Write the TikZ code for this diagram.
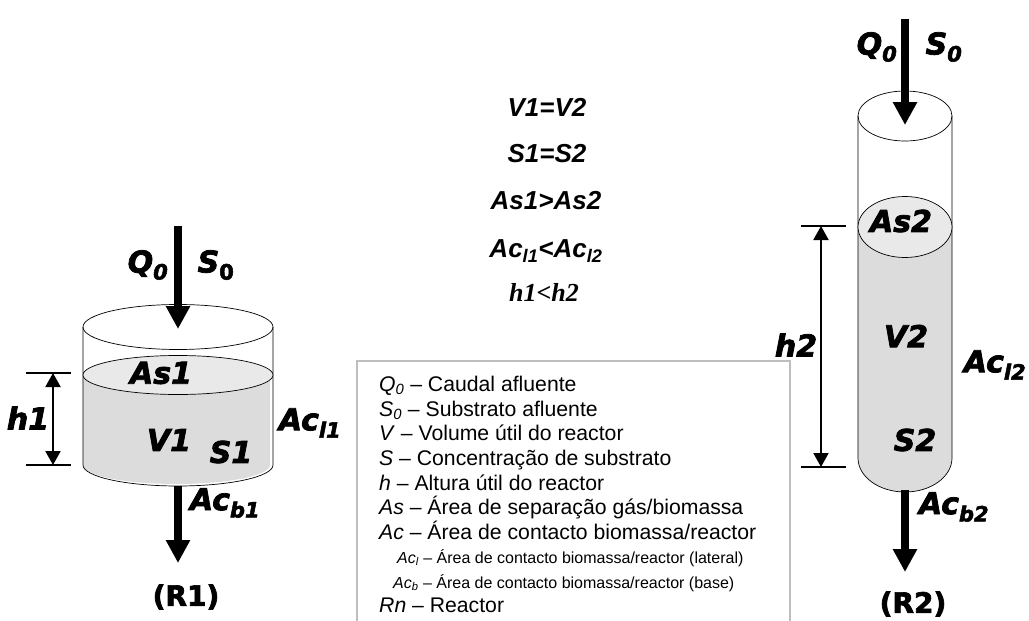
\documentclass[tikz,border=0pt]{standalone}
\usepackage{fontspec}
\usetikzlibrary{arrows.meta}
\setmainfont{Liberation Sans}
\newfontfamily\heavyfont{DejaVu Sans}[BoldFeatures={FakeBold=2.5},BoldItalicFeatures={FakeBold=2.5}]
\newfontfamily\timesfont{Liberation Serif}
\tikzset{
    wall/.style={black, line width=0.7pt},
    heavylabel/.style={inner sep=0pt, font=\fontsize{30}{30}\selectfont\heavyfont\bfseries\itshape},
    reactorname/.style={inner sep=0pt, font=\fontsize{28}{28}\selectfont\heavyfont\bfseries},
    flowarrow/.style={line width=8pt, -{Triangle[length=23pt, width=23pt]}},
    heightarrow/.style={line width=2pt, {Triangle[length=14pt, width=15pt]}-{Triangle[length=14pt, width=15pt]}},
    heightline/.style={line width=1.2pt},
    relation/.style={inner sep=0pt, font=\fontsize{26}{26}\selectfont\bfseries\itshape},
    legendrow/.style={anchor=base west, inner sep=0pt, font=\fontsize{21.2}{21.2}\selectfont},
    legendsub/.style={anchor=base west, inner sep=0pt, font=\fontsize{16}{16}\selectfont}
}
\definecolor{liquid}{HTML}{DCDCDC}
\definecolor{surface}{HTML}{E9E9E9}
\definecolor{boxline}{HTML}{BEBEBE}
\begin{document}
\begin{tikzpicture}[x=1pt, y=-1pt]
    \useasboundingbox (0,0) rectangle (1029,621);

    % Points du reacteur R1
    \coordinate (r1in) at (178,226);
    \coordinate (r1inend) at (178,329);
    \coordinate (r1out) at (178,486);
    \coordinate (r1outend) at (178,563);
    \coordinate (h1a) at (53,373);
    \coordinate (h1b) at (53,465);
    \coordinate (h1aL) at (26,373);
    \coordinate (h1aR) at (71,373);
    \coordinate (h1bL) at (26,465);
    \coordinate (h1bR) at (71,465);

    % Reacteur R1
    \fill[liquid] (83,373) -- (83,465) arc[start angle=180, end angle=0, x radius=93.5, y radius=19] -- (270,373) -- cycle;
    \draw[wall] (83,327) -- (83,465) arc[start angle=180, end angle=0, x radius=95, y radius=21] -- (273,327);
    \draw[wall] (178,327) ellipse [x radius=95, y radius=22.5];
    \draw[wall, fill=surface] (178,375) ellipse [x radius=95, y radius=19.5];

    % Fleches de R1
    \draw[flowarrow] (r1in) -- (r1inend);
    \draw[flowarrow] (r1out) -- (r1outend);
    \draw[heightline] (h1aL) -- (h1aR);
    \draw[heightline] (h1bL) -- (h1bR);
    \draw[heightarrow] (h1a) -- (h1b);

    % Textes de R1
    \node[heavylabel] (q1) at (148,265) {Q\textsubscript{0}};
    \node[heavylabel] (s1in) at (216,265) {S\textsubscript{\textup{0}}};
    \node[heavylabel] (as1) at (161,373) {As1};
    \node[heavylabel] (v1) at (169,440) {V1};
    \node[heavylabel] (s1) at (231,452) {S1};
    \node[heavylabel] (h1) at (28,418) {h1};
    \node[heavylabel] (acl1) at (310,423) {Ac\textsubscript{l1}};
    \node[heavylabel] (acb1) at (225,503) {Ac\textsubscript{b1}};
    \node[reactorname] (r1) at (186,597) {(R1)};

    % Points du reacteur R2
    \coordinate (r2in) at (905,19);
    \coordinate (r2inend) at (905,125);
    \coordinate (r2out) at (905,490);
    \coordinate (r2outend) at (905,572);
    \coordinate (h2a) at (821,226);
    \coordinate (h2b) at (821,467);
    \coordinate (h2aL) at (801,226);
    \coordinate (h2aR) at (846,226);
    \coordinate (h2bL) at (801,467);
    \coordinate (h2bR) at (846,467);

    % Reacteur R2
    \fill[liquid] (858,227) -- (858,458) arc[start angle=180, end angle=0, x radius=47, y radius=34] -- (952,227) -- cycle;
    \draw[wall] (858,116) -- (858,458) arc[start angle=180, end angle=0, x radius=47, y radius=34] -- (952,116);
    \draw[wall] (905,116) ellipse [x radius=47, y radius=25];
    \draw[wall, fill=surface] (905,227) ellipse [x radius=47, y radius=30.5];

    % Fleches de R2
    \draw[flowarrow] (r2in) -- (r2inend);
    \draw[flowarrow] (r2out) -- (r2outend);
    \draw[heightline] (h2aL) -- (h2aR);
    \draw[heightline] (h2bL) -- (h2bR);
    \draw[heightarrow] (h2a) -- (h2b);

    % Textes de R2
    \node[heavylabel] (q2) at (877,47) {Q\textsubscript{0}};
    \node[heavylabel] (s2in) at (944,47) {S\textsubscript{0}};
    \node[heavylabel] (as2) at (901,221) {As2};
    \node[heavylabel] (v2) at (906,336) {V2};
    \node[heavylabel] (acl2) at (995,365) {Ac\textsubscript{l2}};
    \node[heavylabel] (s2) at (915,440) {S2};
    \node[heavylabel] (h2) at (796,345) {h2};
    \node[heavylabel] (acb2) at (954,507) {Ac\textsubscript{b2}};
    \node[reactorname] (r2) at (913,604) {(R2)};

    % Relations entre R1 et R2
    \node[relation] (relv) at (547,107) {V1=V2};
    \node[relation] (rels) at (547,154) {S1=S2};
    \node[relation] (relas) at (546,201) {As1>As2};
    \node[relation] (relac) at (546,251) {Ac\textsubscript{l1}<Ac\textsubscript{l2}};
    \node[relation, font=\fontsize{26}{26}\selectfont\timesfont\bfseries\itshape] (relh) at (544,292) {h1<h2};

    % Legende (ouverte en bas)
    \draw[boxline, line width=2pt] (357,621) -- (357,361) -- (790,361) -- (790,621);
    \node[legendrow] (lq) at (379,391) {\textit{Q\textsubscript{0}} – Caudal afluente};
    \node[legendrow] (ls) at (379,416) {\textit{S\textsubscript{0}} – Substrato afluente};
    \node[legendrow] (lv) at (379,440) {\textit{V} – Volume útil do reactor};
    \node[legendrow] (lc) at (379,465) {\textit{S} – Concentração de substrato};
    \node[legendrow] (lh) at (379,490) {\textit{h} – Altura útil do reactor};
    \node[legendrow] (las) at (379,514) {\textit{As} – Área de separação gás/biomassa};
    \node[legendrow] (lac) at (379,539) {\textit{Ac} – Área de contacto biomassa/reactor};
    \node[legendsub] (lacl) at (397,563) {\textit{Ac\textsubscript{l}} – Área de contacto biomassa/reactor (lateral)};
    \node[legendsub] (lacb) at (393,588) {\textit{Ac\textsubscript{b}} – Área de contacto biomassa/reactor (base)};
    \node[legendrow] (lrn) at (379,612) {\textit{Rn} – Reactor};
\end{tikzpicture}
\end{document}
